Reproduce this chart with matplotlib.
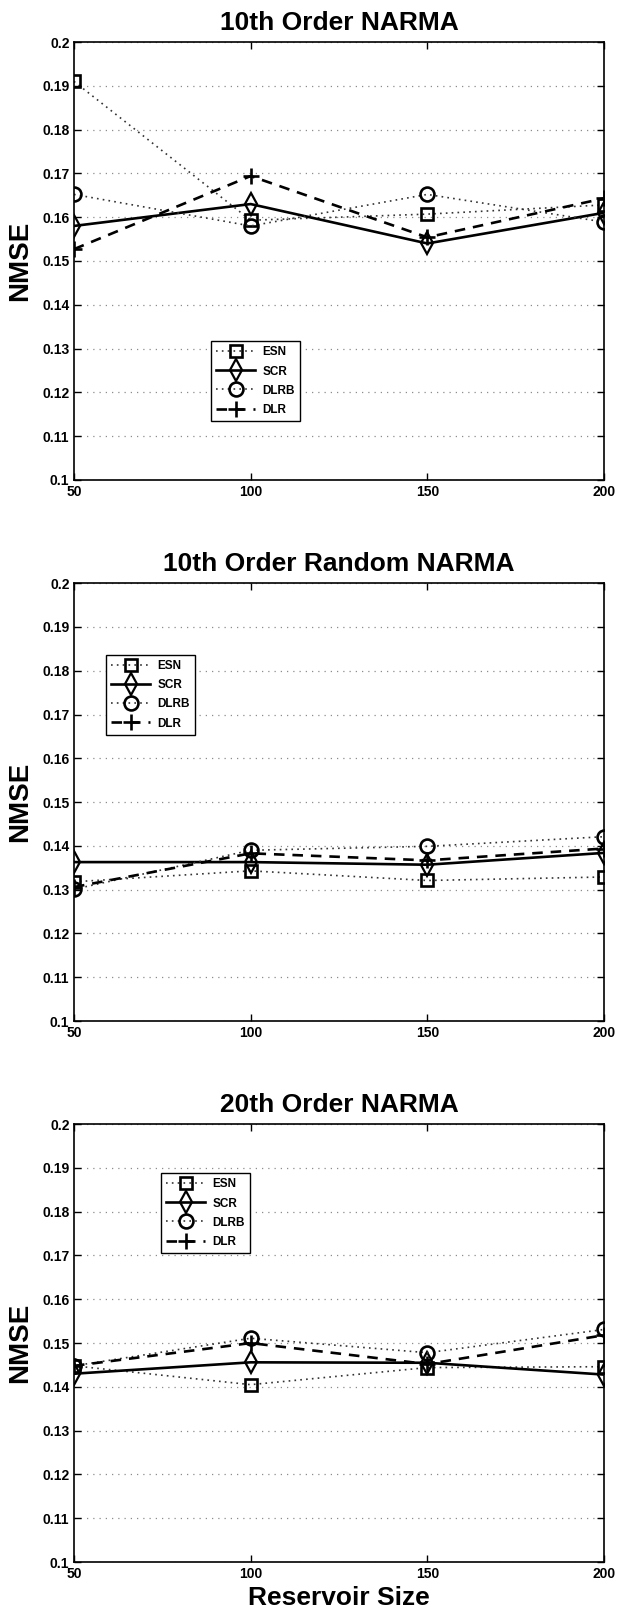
import matplotlib
matplotlib.use("Agg")
import matplotlib.pyplot as plt
from matplotlib.ticker import FixedLocator, FuncFormatter

plt.rcParams['font.family'] = ['Liberation Sans', 'DejaVu Sans']
plt.rcParams['font.weight'] = 'bold'

# данные
sizes = [50, 100, 150, 200]
titles = ['10th Order NARMA', '10th Order Random NARMA', '20th Order NARMA']

esn = [[0.191, 0.1593, 0.1607, 0.1628],
       [0.1318, 0.1343, 0.1321, 0.1329],
       [0.1448, 0.1405, 0.1444, 0.1446]]
scr = [[0.158, 0.163, 0.154, 0.161],
       [0.1363, 0.1363, 0.1357, 0.1384],
       [0.143, 0.1456, 0.1455, 0.1428]]
dlrb = [[0.1652, 0.158, 0.1652, 0.1589],
        [0.1301, 0.139, 0.1399, 0.1421],
        [0.1448, 0.1511, 0.1478, 0.1531]]
dlr = [[0.1527, 0.1694, 0.1554, 0.1643],
       [0.1306, 0.1383, 0.1367, 0.1394],
       [0.1448, 0.150, 0.1452, 0.1518]]

yticks = [0.1, 0.11, 0.12, 0.13, 0.14, 0.15, 0.16, 0.17, 0.18, 0.19, 0.2]

# положение легенды (левый верхний угол, в координатах осей)
legend_pos = [(0.2585, 0.317), (0.060, 0.836), (0.164, 0.888)]

fig = plt.figure(figsize=(6.17, 16.10), dpi=100)
bottoms = [0.7019, 0.3658, 0.0298]

for i in range(3):
    ax = fig.add_axes([0.1199, bottoms[i], 0.859, 0.272])

    ax.plot(sizes, esn[i], color='0.2', linestyle=(0, (1, 2.5)), linewidth=1.2,
            marker='s', markersize=8, markerfacecolor='none',
            markeredgecolor='black', markeredgewidth=1.9, label='ESN')
    ax.plot(sizes, scr[i], color='black', linestyle='-', linewidth=1.9,
            marker='d', markersize=11, markerfacecolor='none',
            markeredgecolor='black', markeredgewidth=1.6, label='SCR')
    ax.plot(sizes, dlrb[i], color='0.2', linestyle=(0, (1, 2.5)), linewidth=1.2,
            marker='o', markersize=10, markerfacecolor='none',
            markeredgecolor='black', markeredgewidth=1.9, label='DLRB')
    ax.plot(sizes, dlr[i], color='black', linestyle=(0, (4, 3)), linewidth=1.9,
            marker='+', markersize=11, markeredgewidth=1.9,
            markeredgecolor='black', label='DLR')

    ax.set_xlim(50, 200)
    ax.set_ylim(0.1, 0.2)
    ax.xaxis.set_major_locator(FixedLocator(sizes))
    ax.yaxis.set_major_locator(FixedLocator(yticks))
    ax.yaxis.set_major_formatter(FuncFormatter(lambda v, p: '%g' % round(v, 2)))
    ax.tick_params(direction='in', length=5, width=1, top=True, right=True,
                   labelsize=10, pad=3.3)
    for lab in ax.get_xticklabels() + ax.get_yticklabels():
        lab.set_fontweight('bold')

    ax.yaxis.grid(True, color='0.55', linestyle=(0, (1, 4)), linewidth=0.9)
    ax.set_axisbelow(True)
    for s in ax.spines.values():
        s.set_linewidth(1.2)

    ax.set_title(titles[i], fontsize=19, fontweight='bold', pad=9)
    ax.set_ylabel('NMSE', fontsize=20, fontweight='bold')
    ax.yaxis.set_label_coords(-0.077, 0.5)

    leg = ax.legend(loc='upper left', bbox_to_anchor=legend_pos[i],
                    borderaxespad=0, fancybox=False, framealpha=1,
                    edgecolor='black', prop={'weight': 'bold', 'size': 8.5},
                    handlelength=3.3, handletextpad=0.6, labelspacing=0.6,
                    borderpad=0.45)
    leg.get_frame().set_linewidth(1.0)

    if i == 2:
        ax.set_xlabel('Reservoir Size', fontsize=19, fontweight='bold', labelpad=4)

fig.savefig('out.png', dpi=100)
